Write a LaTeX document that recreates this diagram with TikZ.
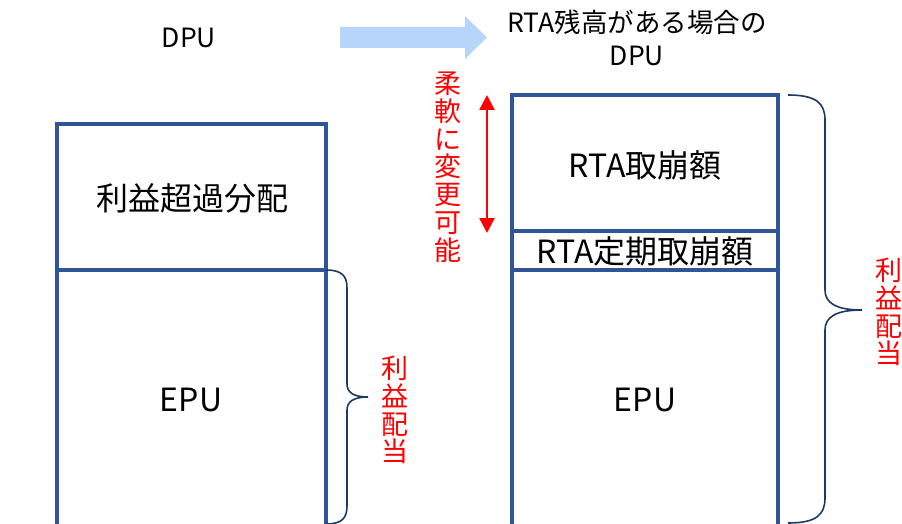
\documentclass[tikz,border=0pt]{standalone}
\usepackage{fontspec}
\setmainfont{Noto Sans CJK JP}
\usetikzlibrary{arrows.meta}
\definecolor{boxblue}{RGB}{47,85,151}
\definecolor{bracenavy}{RGB}{32,56,100}
\definecolor{arrowblue}{RGB}{183,213,250}
\definecolor{lblred}{RGB}{255,0,0}
\tikzset{
  box/.style={draw=boxblue, line width=3.2pt},
  lbl/.style={font=\fontsize{32}{34}\selectfont, inner sep=0pt},
  hdr/.style={font=\fontsize{26.5}{33}\selectfont, inner sep=0pt, align=center},
  redv/.style={text=lblred, font=\fontsize{27}{27.8}\selectfont, inner sep=0pt, align=center},
  brace/.style={draw=bracenavy, line width=1.6pt},
}
\begin{document}
\begin{tikzpicture}[x=1pt,y=-1pt]
\useasboundingbox (0,0) rectangle (902,524);
\clip (0,0) rectangle (902,524);
% top labels and block arrow
\node[hdr] (dpuL) at (189,38) {DPU};
\node[hdr] (dpuR) at (637,38) {RTA残高がある場合の\\DPU};
\fill[arrowblue] (340,27) -- (465,27) -- (465,16) -- (487,37.5) -- (465,59) -- (465,48) -- (340,48) -- cycle;
% left column
\draw[box] (57,124) rectangle (326,540);
\draw[box] (57,270) -- (326,270);
\node[lbl] (exL) at (192,198) {利益超過分配};
\node[lbl] (epuL) at (191,400) {EPU};
\draw[brace] (326,270) .. controls (342,270) and (347,276) .. (347,288) -- (347,384)
  .. controls (347,392) and (353,397) .. (368,397)
  .. controls (353,397) and (347,402) .. (347,410) -- (347,506)
  .. controls (347,518) and (342,524) .. (326,524);
\node[redv] (divL) at (395,410) {利\\益\\配\\当};
% right column
\draw[box] (512,95) rectangle (778,540);
\draw[box] (512,231) -- (778,231);
\draw[box] (512,270) -- (778,270);
\node[lbl] (rtaT) at (645,165) {RTA取崩額};
\node[lbl] (rtaP) at (645,251) {RTA定期取崩額};
\node[lbl] (epuR) at (645,400) {EPU};
\draw[brace] (788,95) .. controls (816,95) and (825,103) .. (825,120) -- (825,290)
  .. controls (825,303) and (836,310) .. (862,310)
  .. controls (836,310) and (825,317) .. (825,330) -- (825,498)
  .. controls (825,515) and (816,523) .. (788,523);
\node[redv] (divR) at (889,312) {利\\益\\配\\当};
% flexible arrow
\node[redv] (flex) at (448,167) {柔\\軟\\に\\変\\更\\可\\能};
\coordinate (fa) at (487,95);
\coordinate (fb) at (487,233);
\draw[lblred, line width=2.4pt, {Triangle[width=15pt,length=15pt]}-{Triangle[width=15pt,length=15pt]}] (fa) -- (fb);
\end{tikzpicture}
\end{document}
